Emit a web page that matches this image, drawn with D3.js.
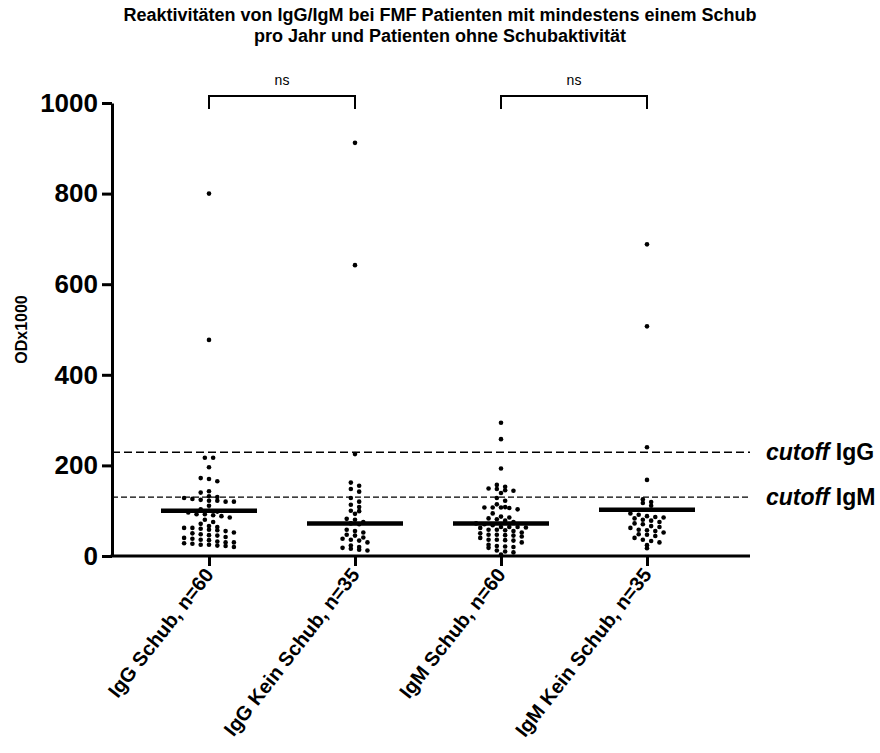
<!DOCTYPE html>
<html>
<head>
<meta charset="utf-8">
<script src="https://cdn.jsdelivr.net/npm/d3@7"></script>
<style>
  body { margin: 0; background: #fff; }
  svg { font-family: Arial, "Liberation Sans", Helvetica, sans-serif; }
</style>
</head>
<body>
<div id="chart"></div>
<script>
// categories
var groups = ["IgG Schub, n=60", "IgG Kein Schub, n=35", "IgM Schub, n=60", "IgM Kein Schub, n=35"];

// values (ODx1000)
var iggSchub = [800, 477, 217, 217, 196, 172, 170, 165, 143, 140, 132, 130, 128, 126, 124, 122, 122, 120, 120, 111,
  103, 100, 98,
  96, 92, 92, 90, 88, 85, 80, 75, 71, 66, 64, 62, 62, 60, 58, 57, 55, 52, 50, 48, 46, 45, 42, 40, 38,
  36, 35, 32, 30, 30, 28, 27, 25, 25, 23, 22, 20];
var iggKein = [912, 642, 225, 162, 155, 148, 142, 128, 120, 113, 108, 100, 99, 93,
  82, 80, 75, 72, 70,
  58, 55, 52, 47, 45, 41, 38, 36, 34, 30, 23, 20, 18, 16, 14, 12];
var igmSchub = [294, 258, 193, 157, 153, 149, 148, 145, 144, 139, 128, 122, 114, 108, 107, 107, 107, 106, 103, 94, 87, 85, 83, 81,
  78, 75, 72, 70, 68,
  64, 64, 64, 63, 62, 58, 58, 57, 55, 52, 50, 47, 47, 46, 45, 43, 40, 36, 36, 35, 34, 30, 25, 22, 21, 20, 18, 12, 10, 8, 3];
var igmKein = [688, 507, 240, 168, 125, 119, 117, 111, 94, 91, 88, 86, 85, 83, 80, 78, 75, 72, 70, 66,
  64, 62, 58, 57, 55, 52, 48, 47, 44, 40, 36, 33, 30, 24, 17];
var seriesValues = [iggSchub, iggKein, igmSchub, igmKein];

// horizontal bars as drawn in the figure
var centerValues = [100, 72, 72, 102];

var cutoffNames = ["IgG", "IgM"];
var cutoffValues = [229, 130];

var yTicks = [0, 200, 400, 600, 800, 1000];
var comparisons = [[0, 1], [2, 3]];
var comparisonLabels = ["ns", "ns"];

var width = 880, height = 753;
var plot = {left: 112, right: 750, top: 103, bottom: 556};

var svg = d3.select("#chart").append("svg")
    .attr("width", width)
    .attr("height", height);

var x = d3.scalePoint()
    .domain(groups)
    .range([209, 647]);

var y = d3.scaleLinear()
    .domain([0, 1000])
    .range([plot.bottom, plot.top]);

// title
var title = svg.append("text")
    .attr("text-anchor", "middle")
    .style("font-weight", "bold")
    .style("font-size", "18px");
title.append("tspan").attr("x", 440).attr("y", 21)
    .text("Reaktivitäten von IgG/IgM bei FMF Patienten mit mindestens einem Schub");
title.append("tspan").attr("x", 440).attr("y", 42)
    .text("pro Jahr und Patienten ohne Schubaktivität");

// cutoff lines
svg.selectAll(".cutoff")
    .data(cutoffValues)
  .enter().append("line")
    .attr("class", "cutoff")
    .attr("x1", plot.left)
    .attr("x2", plot.right)
    .attr("y1", function(d) { return y(d); })
    .attr("y2", function(d) { return y(d); })
    .attr("stroke", "#000")
    .attr("stroke-width", function(d, i) { return i === 0 ? 1.6 : 1.2; })
    .attr("stroke-dasharray", function(d, i) { return i === 0 ? "8,4" : "6,3"; });

var cutLabels = svg.selectAll(".cutlabel")
    .data(cutoffValues)
  .enter().append("text")
    .attr("class", "cutlabel")
    .attr("x", 766)
    .attr("y", function(d) { return y(d); })
    .attr("dy", "0.35em")
    .style("font-weight", "bold")
    .style("font-size", "23px");
cutLabels.append("tspan").style("font-style", "italic").text("cutoff");
cutLabels.append("tspan").text(function(d, i) { return " " + cutoffNames[i]; });

// y axis
var yAxis = svg.append("g")
    .attr("transform", "translate(" + plot.left + ",0)")
    .call(d3.axisLeft(y).tickValues(yTicks).tickFormat(d3.format("d"))
      .tickSize(10).tickSizeOuter(0).tickPadding(4));
yAxis.select(".domain").attr("stroke-width", 3);
yAxis.selectAll(".tick line").attr("stroke-width", 3);
yAxis.selectAll(".tick text")
    .style("font-size", "26px")
    .style("font-weight", "bold")
    .attr("fill", "#000");

svg.append("text")
    .attr("transform", "translate(27," + ((plot.top + plot.bottom) / 2) + ") rotate(-90)")
    .attr("text-anchor", "middle")
    .style("font-weight", "bold")
    .style("font-size", "16px")
    .text("ODx1000");

// x axis
var xAxis = svg.append("g")
    .attr("transform", "translate(0," + plot.bottom + ")")
    .call(d3.axisBottom(x).tickSize(10).tickSizeOuter(0));
xAxis.select(".domain").remove();
xAxis.insert("line", ":first-child")
    .attr("x1", plot.left - 1.5)
    .attr("x2", plot.right)
    .attr("stroke", "#000")
    .attr("stroke-width", 3);
xAxis.selectAll(".tick line").attr("stroke-width", 3);
xAxis.selectAll(".tick text")
    .attr("y", 0)
    .attr("dy", 0)
    .attr("text-anchor", "end")
    .attr("transform", "translate(5,19) rotate(-52)")
    .style("font-size", "20px")
    .style("font-weight", "bold")
    .attr("fill", "#000");

// swarm dots
var binPx = 5, colStep = 8.3;
function swarm(values, cx) {
  var pts = values.map(function(v) { return {v: v, py: y(v)}; });
  var bins = d3.group(pts, function(d) { return Math.round(d.py / binPx); });
  bins.forEach(function(arr) {
    arr.forEach(function(d, i) { d.px = cx + (i - (arr.length - 1) / 2) * colStep; });
  });
  return pts;
}

groups.forEach(function(g, gi) {
  var pts = swarm(seriesValues[gi], x(g));
  svg.append("g").selectAll("circle")
      .data(pts)
    .enter().append("circle")
      .attr("cx", function(d) { return d.px; })
      .attr("cy", function(d) { return d.py; })
      .attr("r", 2.3)
      .attr("fill", "#000");
});

// center bars
svg.selectAll(".center")
    .data(centerValues)
  .enter().append("line")
    .attr("class", "center")
    .attr("x1", function(d, i) { return x(groups[i]) - 48; })
    .attr("x2", function(d, i) { return x(groups[i]) + 48; })
    .attr("y1", function(d) { return y(d); })
    .attr("y2", function(d) { return y(d); })
    .attr("stroke", "#000")
    .attr("stroke-width", 4.5);

// significance brackets
var by = 96;
comparisons.forEach(function(c, ci) {
  var x1 = x(groups[c[0]]), x2 = x(groups[c[1]]);
  svg.append("path")
      .attr("d", "M" + x1 + "," + (by + 13) + "V" + by + "H" + x2 + "V" + (by + 13))
      .attr("fill", "none")
      .attr("stroke", "#000")
      .attr("stroke-width", 2);
  svg.append("text")
      .attr("x", (x1 + x2) / 2)
      .attr("y", by - 11)
      .attr("text-anchor", "middle")
      .style("font-size", "14px")
      .text(comparisonLabels[ci]);
});
</script>
</body>
</html>
